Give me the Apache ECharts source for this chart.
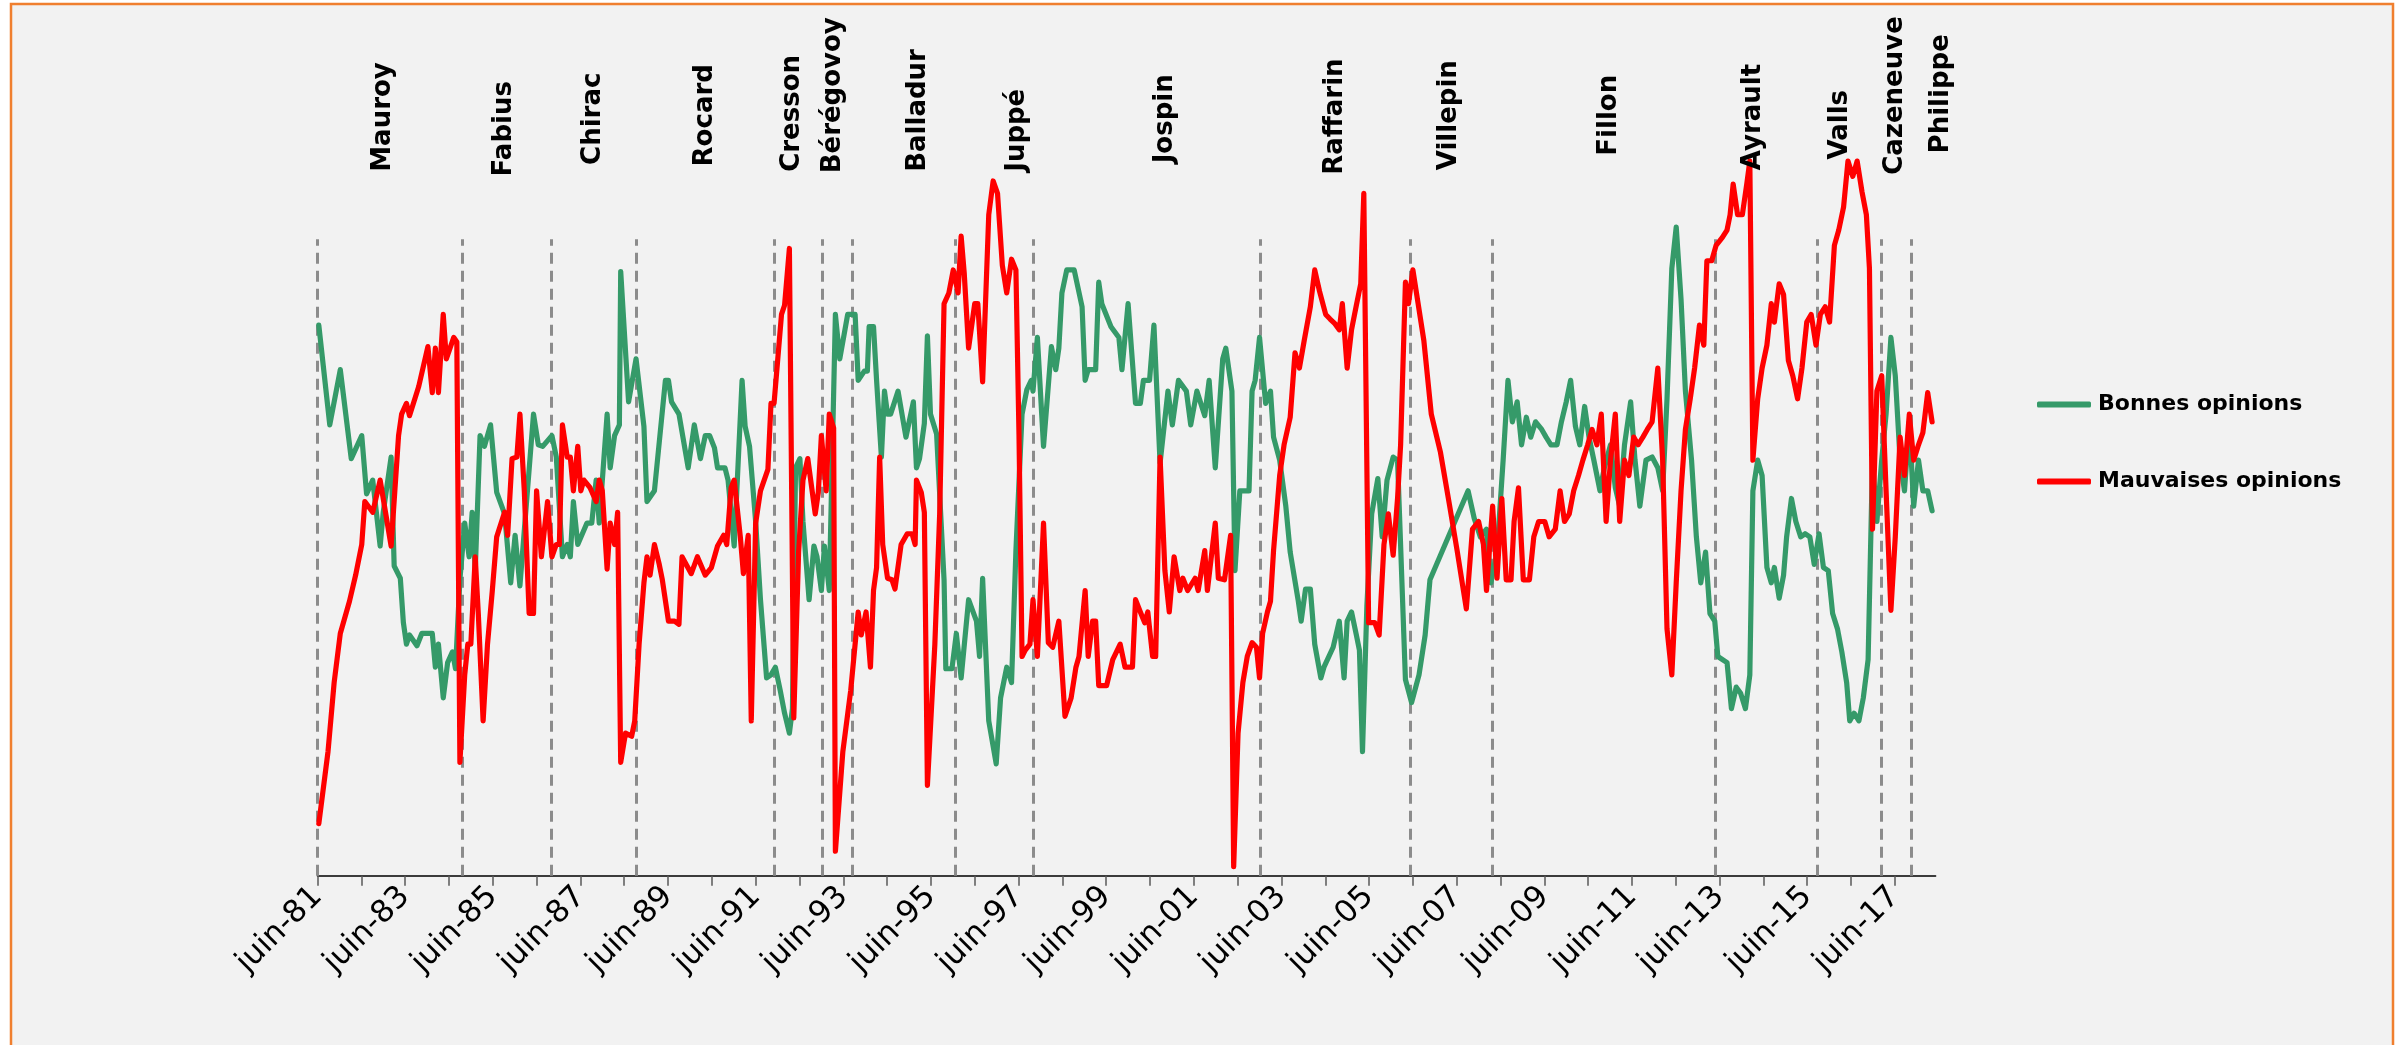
<!DOCTYPE html>
<html>
<head>
<meta charset="utf-8">
<script src="https://cdn.jsdelivr.net/npm/echarts@6/dist/echarts.min.js"></script>
<style>
html,body{margin:0;padding:0;background:#ffffff;}
#c{width:2405px;height:1045px;}
</style>
</head>
<body>
<div id="c"></div>
<script>
// ---- axis span (decimal years on the chart's date axis) ----
const axisStart = 1981.42;   // juin-81
const axisEnd = 2018.35;

// ---- series: [date (decimal year), value] ----
const bonnesOpinions = [
[1981.45,71.8],[1981.70,58.8],[1981.94,66],[1982.19,54.4],[1982.43,57.4],[1982.54,49.8],[1982.68,51.6],[1982.85,43],[1982.92,47.4],[1983.10,54.6],
[1983.17,40.4],[1983.31,38.8],[1983.38,33],[1983.45,30.2],[1983.52,31.4],[1983.69,30],[1983.80,31.6],[1984.04,31.6],[1984.11,27.2],[1984.18,30.2],
[1984.29,23.2],[1984.39,27.8],[1984.50,29.2],[1984.57,27],[1984.67,38.6],[1984.78,46],[1984.88,41.6],[1984.95,47.4],[1985.02,39.8],[1985.13,57.4],
[1985.23,56],[1985.37,58.8],[1985.51,50],[1985.69,47.2],[1985.83,38.2],[1985.93,44.4],[1986.04,37.8],[1986.35,60.2],[1986.46,56.2],[1986.56,56],
[1986.77,57.4],[1986.87,54.6],[1987.01,41.6],[1987.12,43.2],[1987.19,41.6],[1987.26,48.8],[1987.36,43.2],[1987.57,46],[1987.68,46],[1987.78,51.6],
[1987.85,46],[1988.03,60.2],[1988.10,53.2],[1988.20,57.4],[1988.31,58.8],[1988.34,78.8],[1988.52,61.8],[1988.69,67.4],[1988.87,58.6],[1988.94,48.8],
[1989.11,50.2],[1989.36,64.6],[1989.43,64.6],[1989.50,61.8],[1989.67,60.2],[1989.88,53.2],[1990.02,58.8],[1990.16,54.4],[1990.27,57.4],[1990.37,57.4],
[1990.48,55.8],[1990.55,53.2],[1990.72,53.2],[1990.79,51.6],[1990.93,43],[1991.11,64.6],[1991.18,58.6],[1991.28,56],[1991.42,46.2],[1991.53,36],
[1991.67,25.8],[1991.77,26.2],[1991.87,27.2],[1991.98,24.2],[1992.08,21.2],[1992.19,18.6],[1992.26,21.8],[1992.33,53.2],[1992.43,54.4],[1992.50,46.2],
[1992.64,36],[1992.75,43],[1992.82,41.6],[1992.92,37.2],[1992.99,43],[1993.10,37.2],[1993.24,73.2],[1993.34,67.4],[1993.52,73.2],[1993.69,73.2],
[1993.76,64.6],[1993.90,65.8],[1993.97,65.8],[1994.01,71.6],[1994.11,71.6],[1994.18,64.6],[1994.29,54.6],[1994.36,63.2],[1994.43,60.2],[1994.50,60.2],
[1994.67,63.2],[1994.85,57.2],[1995.02,61.8],[1995.09,53.2],[1995.16,54.4],[1995.27,59],[1995.34,70.4],[1995.41,60.2],[1995.55,57.6],[1995.72,38.6],
[1995.76,27],[1995.90,27],[1996.00,31.6],[1996.11,25.8],[1996.28,36],[1996.46,33.2],[1996.53,28.6],[1996.60,38.8],[1996.74,20.2],[1996.91,14.6],
[1997.01,23.2],[1997.15,27.2],[1997.26,25.2],[1997.36,42.4],[1997.50,60.2],[1997.61,63.4],[1997.71,64.6],[1997.75,63.2],[1997.85,70.2],[1997.99,56],
[1998.17,69],[1998.27,66],[1998.34,68.8],[1998.41,76],[1998.52,79],[1998.69,79],[1998.87,74.2],[1998.94,64.6],[1999.01,66],[1999.18,66],
[1999.25,77.4],[1999.32,74.6],[1999.53,71.6],[1999.71,70.2],[1999.78,66],[1999.92,74.6],[2000.09,61.6],[2000.20,61.6],[2000.27,64.6],[2000.41,64.6],
[2000.51,71.8],[2000.65,53.8],[2000.83,63.2],[2000.93,58.8],[2001.07,64.6],[2001.25,63.2],[2001.35,58.8],[2001.49,63.2],[2001.67,60],[2001.77,64.6],
[2001.91,53.2],[2002.08,67.4],[2002.15,68.8],[2002.29,63.2],[2002.36,39.8],[2002.47,50.2],[2002.68,50.2],[2002.75,63.2],[2002.82,64.6],[2002.92,70.2],
[2003.06,61.6],[2003.17,63.2],[2003.24,57.2],[2003.38,54.2],[2003.52,48.2],[2003.62,42.2],[2003.80,36],[2003.87,33.2],[2003.97,37.4],[2004.08,37.4],
[2004.18,30.2],[2004.32,25.8],[2004.39,27.2],[2004.60,29.8],[2004.74,33.2],[2004.85,25.8],[2004.92,33.2],[2005.02,34.4],[2005.13,31.4],[2005.20,29.4],
[2005.27,16.2],[2005.37,35.2],[2005.48,47.2],[2005.62,51.8],[2005.72,44.2],[2005.83,51.6],[2005.97,54.6],[2006.07,54.2],[2006.25,25.6],[2006.39,22.6],
[2006.56,26.2],[2006.70,31.4],[2006.81,38.6],[2007.68,50.2],[2007.82,46.6],[2007.96,44.2],[2008.10,45.2],[2008.20,38.2],[2008.34,42.2],[2008.48,54.2],
[2008.59,64.6],[2008.69,59.2],[2008.80,61.8],[2008.90,56.2],[2009.01,59.8],[2009.11,57.2],[2009.22,59.2],[2009.36,58.2],[2009.46,57.2],[2009.57,56.2],
[2009.71,56.2],[2009.81,59.2],[2009.92,61.8],[2010.02,64.6],[2010.13,58.6],[2010.23,56.2],[2010.34,61.2],[2010.44,57.2],[2010.55,54.2],[2010.69,50.2],
[2010.79,53.2],[2010.93,56.2],[2011.04,50.6],[2011.14,48.2],[2011.25,56.2],[2011.39,61.8],[2011.49,54.2],[2011.60,48.2],[2011.74,54.2],[2011.88,54.6],
[2012.01,53.2],[2012.12,50.2],[2012.22,62.2],[2012.33,79.2],[2012.43,84.6],[2012.54,75.2],[2012.64,63.2],[2012.78,54.2],[2012.89,44.2],[2012.99,38.2],
[2013.10,42.2],[2013.20,34.2],[2013.31,33.2],[2013.38,28.6],[2013.59,27.8],[2013.69,21.8],[2013.80,24.6],[2013.90,23.8],[2014.01,21.8],[2014.11,26.2],
[2014.18,50.2],[2014.29,54.2],[2014.39,52.2],[2014.50,40.2],[2014.60,38.2],[2014.67,40.2],[2014.78,36.2],[2014.88,39.2],[2014.95,44.2],[2015.06,49.2],
[2015.16,46.2],[2015.27,44.2],[2015.37,44.6],[2015.48,44.2],[2015.58,40.6],[2015.69,44.6],[2015.79,40.2],[2015.90,39.8],[2016.00,34.2],[2016.11,32.2],
[2016.21,29.2],[2016.32,25.2],[2016.39,20.2],[2016.49,21.2],[2016.60,20.2],[2016.70,23.2],[2016.81,28.2],[2016.91,54.2],[2017.01,46.2],[2017.12,54.2],
[2017.22,60.2],[2017.33,70.2],[2017.43,65.2],[2017.54,54.2],[2017.64,50.2],[2017.75,59.2],[2017.85,48.2],[2017.96,54.2],[2018.06,50.2],[2018.17,50.2],
[2018.27,47.6]
];

const mauvaisesOpinions = [
[1981.45,6.8],[1981.66,16.2],[1981.80,25.2],[1981.94,31.6],[1982.15,35.8],[1982.29,39.2],[1982.43,43.2],[1982.50,48.8],[1982.68,47.4],[1982.85,51.6],
[1983.10,43],[1983.27,57.4],[1983.34,60.2],[1983.45,61.6],[1983.52,60],[1983.73,63.8],[1983.94,69],[1984.04,63],[1984.11,68.8],[1984.18,63],
[1984.29,73.2],[1984.36,67.4],[1984.53,70.2],[1984.60,69.6],[1984.67,14.8],[1984.78,26.2],[1984.85,30.2],[1984.92,30.2],[1985.02,41.6],[1985.09,34.2],
[1985.20,20.2],[1985.30,30.2],[1985.41,37.2],[1985.51,44.2],[1985.69,47.4],[1985.76,44.4],[1985.86,54.4],[1985.97,54.6],[1986.04,60.2],[1986.14,50.2],
[1986.25,34.2],[1986.35,34.2],[1986.42,50.2],[1986.53,41.6],[1986.67,48.8],[1986.77,41.6],[1986.87,43.2],[1986.94,43.2],[1987.01,58.8],[1987.12,54.6],
[1987.19,54.6],[1987.26,50.2],[1987.36,56],[1987.43,50.2],[1987.50,51.6],[1987.64,50.6],[1987.78,48.8],[1987.85,51.6],[1987.92,50.2],[1988.03,40],
[1988.10,46],[1988.20,43.2],[1988.27,47.4],[1988.34,14.8],[1988.45,18.6],[1988.59,18.2],[1988.66,20.2],[1988.76,30.2],[1988.87,38.2],[1988.94,41.6],
[1989.01,39.2],[1989.11,43.2],[1989.22,40.6],[1989.29,38.6],[1989.43,33.2],[1989.57,33.2],[1989.67,32.8],[1989.74,41.6],[1989.95,39.4],[1990.09,41.6],
[1990.27,39.2],[1990.41,40.2],[1990.55,43],[1990.69,44.4],[1990.76,43.2],[1990.86,50.6],[1990.93,51.6],[1991.07,44.2],[1991.14,39.4],[1991.25,44.4],
[1991.32,20.2],[1991.42,46],[1991.53,50.2],[1991.70,53],[1991.77,61.6],[1991.84,61.6],[1992.01,73.2],[1992.08,74.4],[1992.19,81.8],[1992.29,20.6],
[1992.40,42.2],[1992.50,51.6],[1992.61,54.4],[1992.78,47.2],[1992.85,50],[1992.92,57.4],[1993.03,50.2],[1993.10,60.2],[1993.20,58.4],[1993.24,3.2],
[1993.41,16.2],[1993.59,24.2],[1993.76,34.4],[1993.83,31.4],[1993.94,34.4],[1994.04,27.2],[1994.11,37.2],[1994.18,40.2],[1994.25,54.6],[1994.32,43.2],
[1994.43,38.8],[1994.53,38.6],[1994.60,37.4],[1994.74,43.2],[1994.88,44.6],[1994.99,44.6],[1995.06,43.2],[1995.09,51.6],[1995.20,50],[1995.27,47.4],
[1995.34,11.8],[1995.51,30.2],[1995.62,47.2],[1995.72,74.6],[1995.83,76],[1995.93,79],[1996.04,76],[1996.11,83.4],[1996.18,78.6],[1996.28,68.8],
[1996.42,74.6],[1996.49,74.6],[1996.60,64.4],[1996.74,86.2],[1996.84,90.6],[1996.94,89],[1997.05,79.6],[1997.15,76],[1997.26,80.4],[1997.36,79],
[1997.43,57.6],[1997.50,28.6],[1997.57,29.4],[1997.68,30.2],[1997.75,36],[1997.85,28.6],[1997.99,46],[1998.10,30.4],[1998.20,29.8],[1998.34,33.2],
[1998.48,20.8],[1998.62,23.2],[1998.73,27.2],[1998.80,28.6],[1998.94,37.2],[1999.01,28.6],[1999.11,33.2],[1999.18,33.2],[1999.25,24.8],[1999.43,24.8],
[1999.57,28.2],[1999.74,30.2],[1999.85,27.2],[2000.02,27.2],[2000.09,36],[2000.20,34.4],[2000.30,33],[2000.37,34.4],[2000.48,28.6],[2000.55,28.6],
[2000.65,54.6],[2000.76,39.8],[2000.86,34.4],[2000.97,41.6],[2001.10,37.2],[2001.17,38.8],[2001.28,37.2],[2001.45,38.8],[2001.52,37.2],[2001.67,42.4],
[2001.73,37.2],[2001.91,46],[2001.98,38.8],[2002.12,38.6],[2002.26,44.4],[2002.33,1.2],[2002.43,18.6],[2002.54,25.2],[2002.64,28.6],[2002.75,30.4],
[2002.85,29.8],[2002.92,25.8],[2002.99,31.6],[2003.10,34.4],[2003.17,35.8],[2003.24,42.4],[2003.38,52.2],[2003.48,56.2],[2003.62,59.8],[2003.73,68.2],
[2003.83,66.2],[2003.94,69.8],[2004.08,74.2],[2004.18,79],[2004.29,76.2],[2004.43,73.2],[2004.53,72.6],[2004.64,72],[2004.74,71.2],[2004.81,74.6],
[2004.92,66.2],[2005.02,71.2],[2005.13,74.4],[2005.23,77.2],[2005.30,89],[2005.41,33],[2005.55,33],[2005.65,31.4],[2005.76,43.2],[2005.86,47.2],
[2005.97,41.8],[2006.07,49.2],[2006.14,56.2],[2006.25,77.4],[2006.32,74.6],[2006.42,79],[2006.67,69.8],[2006.84,60.2],[2007.05,55.2],[2007.26,48.2],
[2007.43,42.4],[2007.64,34.8],[2007.78,45.2],[2007.92,46.2],[2008.03,43.2],[2008.10,37.2],[2008.24,48.2],[2008.34,38.8],[2008.45,49.2],[2008.55,38.6],
[2008.66,38.6],[2008.73,46.2],[2008.83,50.6],[2008.94,38.6],[2009.08,38.6],[2009.18,44.2],[2009.29,46.2],[2009.43,46.2],[2009.53,44.2],[2009.67,45.2],
[2009.78,50.2],[2009.88,46.2],[2009.99,47.2],[2010.09,50.2],[2010.20,52.2],[2010.30,54.2],[2010.41,56.2],[2010.51,58.2],[2010.62,56.2],[2010.72,60.2],
[2010.83,46.2],[2010.93,54.2],[2011.04,60.2],[2011.14,46.2],[2011.25,54.2],[2011.35,52.2],[2011.46,57.2],[2011.56,56.2],[2011.67,57.2],[2011.77,58.2],
[2011.88,59.2],[2012.01,66.2],[2012.12,54.2],[2012.22,32.2],[2012.33,26.2],[2012.43,38.2],[2012.54,50.2],[2012.64,58.2],[2012.75,62.2],[2012.85,66.2],
[2012.96,71.8],[2013.06,69.2],[2013.13,80.2],[2013.24,80.2],[2013.34,82.2],[2013.48,83.2],[2013.59,84.2],[2013.66,86.2],[2013.73,90.2],[2013.83,86.2],
[2013.94,86.2],[2014.04,90.2],[2014.11,93.2],[2014.18,54.2],[2014.29,62.2],[2014.39,66.2],[2014.50,69.2],[2014.60,74.6],[2014.67,72.2],[2014.78,77.2],
[2014.88,75.8],[2014.99,67.2],[2015.09,65.2],[2015.20,62.2],[2015.30,66.2],[2015.41,72.2],[2015.51,73.2],[2015.62,69.2],[2015.72,73.2],[2015.83,74.2],
[2015.93,72.2],[2016.04,82.2],[2016.14,84.2],[2016.25,87.2],[2016.35,93.2],[2016.46,91.2],[2016.56,93.2],[2016.67,89.2],[2016.77,86.2],[2016.84,79.2],
[2016.91,45.2],[2017.01,63.2],[2017.12,65.2],[2017.22,50.2],[2017.33,34.6],[2017.43,44.2],[2017.54,57.2],[2017.64,52.2],[2017.75,60.2],[2017.85,54.2],
[2017.96,56.2],[2018.06,57.8],[2018.17,63],[2018.27,59.2]
];

// ---- Prime ministers: names, start markers, label positions ----
const pmNames = ['Mauroy','Fabius','Chirac','Rocard','Cresson','Bérégovoy','Balladur','Juppé','Jospin','Raffarin','Villepin','Fillon','Ayrault','Valls','Cazeneuve','Philippe'];
const pmStarts = [1981.42,1984.73,1986.75,1988.70,1991.85,1992.93,1993.62,1995.98,1997.75,2002.93,2006.37,2008.22,2013.32,2015.65,2017.11,2017.80];
const pmLabelAt = [1982.93,1985.68,1987.71,1990.27,1992.26,1993.20,1995.13,1997.40,2000.76,2004.65,2007.26,2010.90,2014.19,2016.18,2017.42,2018.47];

// ---- style / layout (not data) ----
const pmLabelBase = [91.8,91.2,92.7,92.5,91.8,91.6,91.8,91.8,92.9,91.4,92,93.9,92,93.4,91.4,94.2];
const dashTop = 83;
const GREEN = '#359a69';
const RED = '#ff0000';
const FONT = 'DejaVu Sans';

const toAxis = p => [+(p[0] - axisStart).toFixed(4), p[1]];

const chart = echarts.init(document.getElementById('c'));
chart.setOption({
  animation: false,
  backgroundColor: '#ffffff',
  graphic: [{
    type: 'rect', silent: true, z: -100,
    shape: { x: 11, y: 4, width: 2382, height: 1100 },
    style: { fill: '#f2f2f2', stroke: '#f07f2f', lineWidth: 2.5 }
  }],
  grid: { left: 317.5, right: 469.4, top: 108.9, bottom: 169.2, containLabel: false },
  xAxis: {
    type: 'value', min: 0, max: +(axisEnd - axisStart).toFixed(4), interval: 1,
    splitLine: { show: false },
    axisLine: { show: true, onZero: true, lineStyle: { color: '#000000', width: 1.5 } },
    axisTick: { show: true, length: 10, lineStyle: { color: '#595959', width: 1.5 } },
    axisLabel: {
      rotate: 45, fontSize: 31, fontFamily: FONT, color: '#000000', margin: 16,
      showMaxLabel: false,
      formatter: function (v) {
        const t = Math.round(v);
        if (Math.abs(v - t) > 1e-6 || t % 2 !== 0) return '';
        return 'juin-' + String((81 + t) % 100).padStart(2, '0');
      }
    }
  },
  yAxis: { type: 'value', min: 0, max: 100, show: false, splitLine: { show: false } },
  legend: {
    orient: 'vertical', left: 2032, top: 386,
    icon: 'roundRect', itemWidth: 54, itemHeight: 6, itemGap: 50,
    data: ['Bonnes opinions', 'Mauvaises opinions'],
    textStyle: { fontFamily: FONT, fontWeight: 'bold', fontSize: 22, color: '#000000', lineHeight: 27, padding: [0, 0, 0, 2] }
  },
  series: [
    {
      type: 'lines', coordinateSystem: 'cartesian2d', silent: true, z: 1,
      data: pmStarts.map(s => ({ coords: [[s - axisStart, 0], [s - axisStart, dashTop]] })),
      lineStyle: { color: '#8c8c8c', width: 3, type: [11, 7], opacity: 1 }
    },
    {
      name: 'Bonnes opinions', type: 'line', z: 3, symbol: 'none', showSymbol: false,
      data: bonnesOpinions.map(toAxis),
      lineStyle: { color: GREEN, width: 5.2, cap: 'round', join: 'round' },
      itemStyle: { color: GREEN }
    },
    {
      name: 'Mauvaises opinions', type: 'line', z: 4, symbol: 'none', showSymbol: false,
      data: mauvaisesOpinions.map(toAxis),
      lineStyle: { color: RED, width: 5.2, cap: 'round', join: 'round' },
      itemStyle: { color: RED }
    },
    {
      type: 'scatter', silent: true, z: 6, clip: false,
      symbolSize: 1, itemStyle: { color: 'rgba(0,0,0,0)', opacity: 1 },
      data: pmNames.map((n, i) => ({ name: n, value: [pmLabelAt[i] - axisStart, pmLabelBase[i]] })),
      label: {
        show: true, formatter: '{b}', position: 'inside', rotate: 90,
        align: 'left', verticalAlign: 'middle', opacity: 1,
        fontFamily: FONT, fontWeight: 'bold', fontSize: 26, color: '#000000',
        textBorderWidth: 0
      }
    }
  ]
});
</script>
</body>
</html>
